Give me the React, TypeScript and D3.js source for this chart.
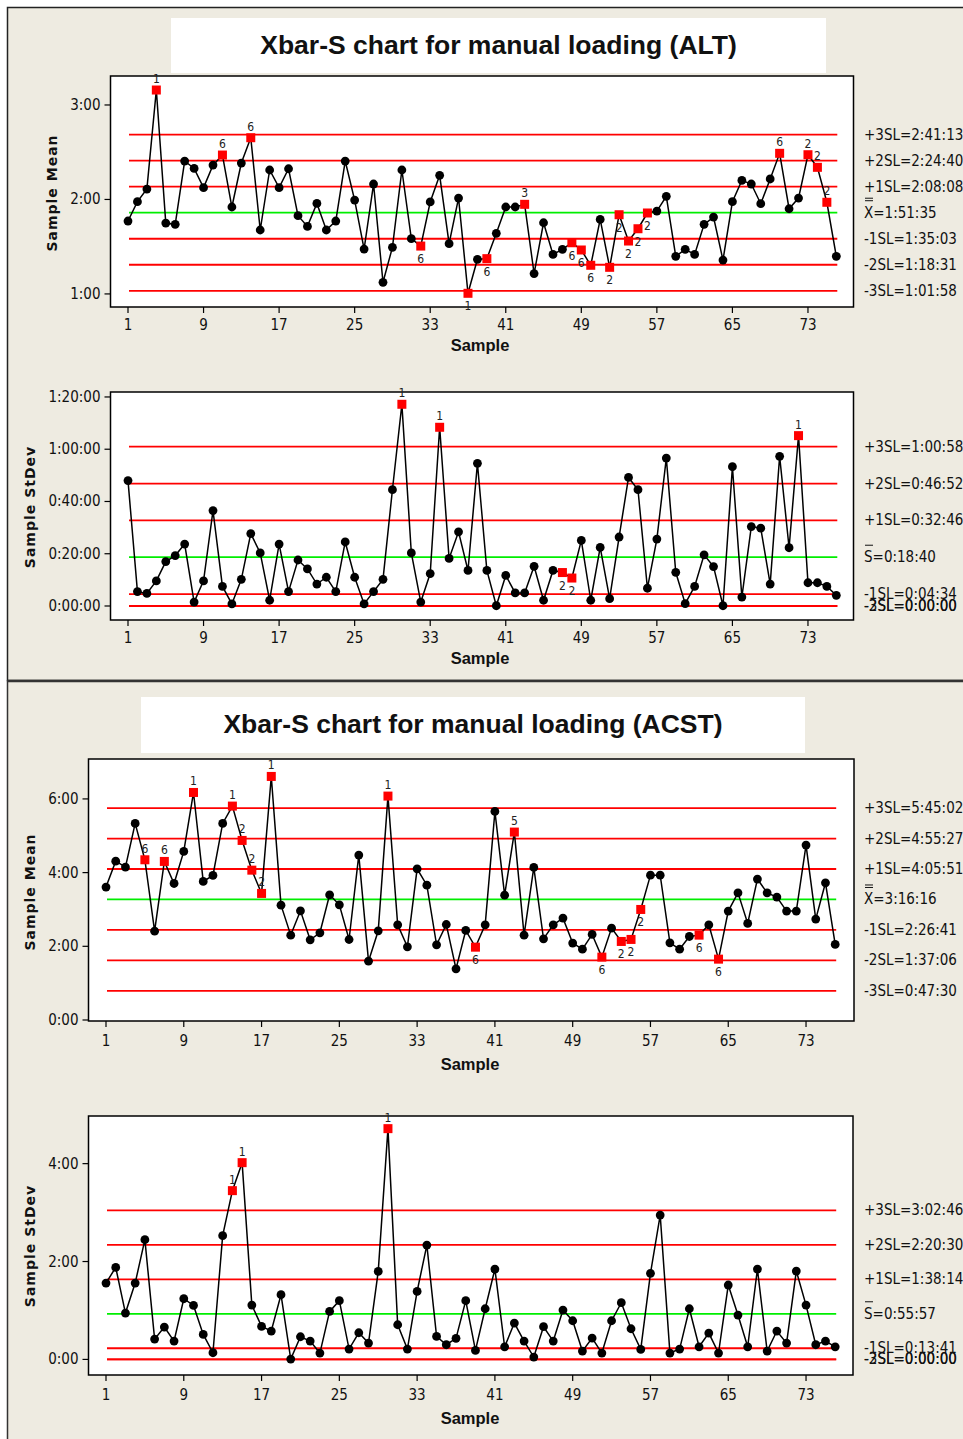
import React from 'react';
import * as d3 from 'd3';

// ---------- DATA ----------
const xTickValues = [1, 9, 17, 25, 33, 41, 49, 57, 65, 73];

// ALT – sample means (minutes)
const altMean = [
  106.3, 118.6, 126.6, 189.5, 105.0, 104.2, 144.4, 139.7, 127.5, 141.8,
  148.2, 115.2, 143.1, 159.2, 100.6, 138.7, 127.5, 139.5, 109.7, 102.9,
  117.5, 100.6, 106.3, 144.4, 119.6, 88.5, 129.8, 67.4, 89.6, 138.7,
  95.1, 90.4, 118.4, 135.3, 91.9, 120.9, 60.4, 82.0, 82.4, 98.5,
  115.2, 115.2, 116.9, 72.9, 105.2, 85.1, 88.3, 92.5, 87.9, 78.2,
  107.3, 76.9, 110.3, 93.6, 101.4, 111.4, 112.6, 122.0, 83.9, 88.3,
  85.1, 104.2, 108.8, 81.5, 118.6, 132.1, 129.8, 117.3, 133.0, 149.3,
  114.1, 120.9, 148.4, 140.4, 118.2, 83.9,
];
const altMeanFlags: [number, string][] = [
  [4, '1'], [11, '6'], [14, '6'], [32, '6'], [37, '1'], [39, '6'], [43, '3'],
  [48, '6'], [49, '6'], [50, '6'], [52, '2'], [53, '2'], [54, '2'], [55, '2'],
  [56, '2'], [70, '6'], [73, '2'], [74, '2'], [75, '2'],
];
const altMeanLimits: [string, string][] = [
  ['+3SL', '2:41:13'], ['+2SL', '2:24:40'], ['+1SL', '2:08:08'], ['X', '1:51:35'],
  ['-1SL', '1:35:03'], ['-2SL', '1:18:31'], ['-3SL', '1:01:58'],
];

// ALT – sample standard deviations (minutes)
const altSd = [
  48.0, 5.5, 4.8, 9.6, 17.0, 19.3, 23.7, 1.5, 9.6, 36.5,
  7.5, 0.8, 10.2, 27.7, 20.3, 2.2, 23.7, 5.5, 17.6, 14.2,
  8.4, 11.0, 5.5, 24.5, 11.0, 0.8, 5.5, 10.2, 44.5, 77.2,
  20.3, 1.5, 12.4, 68.4, 18.2, 28.4, 13.6, 54.6, 13.6, 0.1,
  11.7, 5.0, 5.0, 15.2, 2.2, 13.6, 12.8, 10.7, 25.1, 2.2,
  22.4, 2.8, 26.4, 49.2, 44.5, 6.8, 25.6, 56.6, 12.9, 0.9,
  7.5, 19.6, 15.1, 0.1, 53.3, 3.4, 30.4, 29.8, 8.4, 57.3,
  22.3, 65.2, 8.9, 8.9, 7.5, 4.1,
];
const altSdFlags: [number, string][] = [[30, '1'], [34, '1'], [47, '2'], [48, '2'], [72, '1']];
const altSdLimits: [string, string][] = [
  ['+3SL', '1:00:58'], ['+2SL', '0:46:52'], ['+1SL', '0:32:46'], ['S', '0:18:40'],
  ['-1SL', '0:04:34'], ['-2SL', '0:00:00'], ['-3SL', '0:00:00'],
];

// ACST – sample means (minutes)
const acstMean = [
  216.4, 258.7, 249.0, 320.1, 260.9, 144.7, 258.2, 222.3, 274.5, 370.5,
  225.6, 235.4, 320.1, 348.3, 292.4, 244.0, 206.1, 396.6, 187.0, 138.2,
  177.8, 130.6, 142.0, 203.9, 187.6, 131.1, 268.5, 95.8, 145.2, 364.6,
  155.0, 119.2, 246.2, 219.6, 122.4, 155.5, 83.3, 145.8, 118.6, 155.0,
  339.6, 203.3, 306.0, 138.2, 248.4, 132.2, 155.0, 165.9, 125.2, 115.4,
  139.3, 102.4, 149.6, 127.9, 131.2, 180.0, 235.9, 235.9, 125.7, 115.4,
  136.0, 138.2, 155.0, 99.1, 177.3, 207.1, 157.2, 229.4, 207.1, 200.1,
  177.3, 177.3, 284.8, 164.3, 223.4, 123.0,
];
const acstMeanFlags: [number, string][] = [
  [5, '6'], [7, '6'], [10, '1'], [14, '1'], [15, '2'], [16, '2'], [17, '2'],
  [18, '1'], [30, '1'], [39, '6'], [43, '5'], [52, '6'], [54, '2'], [55, '2'],
  [56, '2'], [62, '6'], [64, '6'],
];
const acstMeanLimits: [string, string][] = [
  ['+3SL', '5:45:02'], ['+2SL', '4:55:27'], ['+1SL', '4:05:51'], ['X', '3:16:16'],
  ['-1SL', '2:26:41'], ['-2SL', '1:37:06'], ['-3SL', '0:47:30'],
];

// ACST – sample standard deviations (minutes)
const acstSd = [
  93.6, 112.8, 56.8, 93.6, 146.8, 24.9, 39.7, 22.5, 74.4, 66.2,
  30.7, 8.2, 151.7, 206.9, 241.2, 66.6, 40.5, 34.8, 79.3, 0.4,
  27.8, 22.5, 7.8, 58.9, 72.0, 12.7, 32.7, 20.0, 107.9, 282.9,
  42.5, 12.7, 83.4, 140.2, 28.2, 18.0, 25.8, 72.0, 11.0, 62.1,
  110.8, 15.5, 44.6, 22.5, 2.9, 40.1, 22.5, 60.5, 47.4, 10.2,
  26.2, 7.8, 47.4, 69.5, 37.6, 12.3, 105.5, 177.0, 7.8, 12.7,
  62.1, 15.5, 32.3, 7.8, 91.2, 54.4, 15.5, 110.8, 10.2, 34.8,
  20.0, 108.3, 66.6, 18.0, 22.5, 15.5,
];
const acstSdFlags: [number, string][] = [[14, '1'], [15, '1'], [30, '1']];
const acstSdLimits: [string, string][] = [
  ['+3SL', '3:02:46'], ['+2SL', '2:20:30'], ['+1SL', '1:38:14'], ['S', '0:55:57'],
  ['-1SL', '0:13:41'], ['-2SL', '0:00:00'], ['-3SL', '0:00:00'],
];

// ---------- HELPERS ----------
const FONT = "'DejaVu Sans Condensed','DejaVu Sans',sans-serif";
const BOLD_FONT = "'Liberation Sans',Arial,sans-serif";
const BEIGE = '#EEEBE1';
const RED = '#FF0000';
const GREEN = '#00EE00';

const toMin = (s: string) => {
  const [h, m, sec] = s.split(':').map(Number);
  return h * 60 + m + sec / 60;
};
const pad = (n: number) => String(n).padStart(2, '0');
const fmtHM = (v: number) => `${Math.floor(v / 60)}:${pad(Math.round(v % 60))}`;
const fmtHMS = (v: number) => `${Math.floor(v / 60)}:${pad(Math.round(v % 60))}:00`;

interface PanelCfg {
  values: number[];
  flags: [number, string][];
  limits: [string, string][];
  box: [number, number, number, number]; // x0, x1, y0, y1
  xRange: [number, number];
  yDomain: [number, number];
  yRange: [number, number];
  yTicks: number[];
  yFmt: (v: number) => string;
  yTitle: string;
  yTitlePos: [number, number];
  xLabelY: number;
  xTitleY: number;
  xTitleX: number;
  lineOffset: number;
}

function Panel({ cfg }: { cfg: PanelCfg }) {
  const [bx0, bx1, by0, by1] = cfg.box;
  const x = d3.scaleLinear().domain([1, 76]).range(cfg.xRange);
  const y = d3.scaleLinear().domain(cfg.yDomain).range(cfg.yRange);
  const pts = cfg.values.map((v, i) => [i + 1, v] as [number, number]);
  const line = d3.line<[number, number]>().x(d => x(d[0])).y(d => y(d[1]));
  const flagMap = new Map(cfg.flags.map(f => [f[0], f[1]]));
  const center = toMin(cfg.limits[3][1]);
  const lx0 = x(1) + cfg.lineOffset;
  const lx1 = x(76) + cfg.lineOffset;
  return (
    <g>
      <rect x={bx0} y={by0} width={bx1 - bx0} height={by1 - by0} fill="#fff" stroke="#000" strokeWidth={1.5} />
      {cfg.limits.map(([name, val], i) => {
        const ly = y(toMin(val));
        return (
          <line key={'l' + i} x1={lx0} x2={lx1} y1={ly} y2={ly}
            stroke={name === 'X' || name === 'S' ? GREEN : RED} strokeWidth={1.8} />
        );
      })}
      <path d={line(pts) || ''} fill="none" stroke="#000" strokeWidth={1.5} />
      {pts.map(([s, v]) => {
        const px = x(s), py = y(v);
        const f = flagMap.get(s);
        if (f) {
          const above = v > center;
          return (
            <g key={'p' + s}>
              <rect x={px - 4.5} y={py - 4.5} width={9} height={9} fill={RED} />
              <text x={px} y={above ? py - 11 : py + 13} fontFamily={FONT} fontSize={12}
                textAnchor="middle" dominantBaseline="central" fill="#222">{f}</text>
            </g>
          );
        }
        return <circle key={'p' + s} cx={px} cy={py} r={4.4} fill="#000" />;
      })}
      {cfg.yTicks.map(t => (
        <g key={'y' + t}>
          <line x1={bx0 - 6} x2={bx0} y1={y(t)} y2={y(t)} stroke="#000" strokeWidth={1.2} />
          <text x={bx0 - 10} y={y(t)} fontFamily={FONT} fontSize={15} textAnchor="end"
            dominantBaseline="central" fill="#111">{cfg.yFmt(t)}</text>
        </g>
      ))}
      {xTickValues.map(t => (
        <g key={'x' + t}>
          <line x1={x(t)} x2={x(t)} y1={by1} y2={by1 + 6} stroke="#000" strokeWidth={1.2} />
          <text x={x(t)} y={cfg.xLabelY} fontFamily={FONT} fontSize={15} textAnchor="middle" fill="#111">{t}</text>
        </g>
      ))}
      <text x={cfg.xTitleX} y={cfg.xTitleY} fontFamily={BOLD_FONT} fontWeight="bold" fontSize={16.5}
        textAnchor="middle" fill="#111">Sample</text>
      <text transform={`translate(${cfg.yTitlePos[0]},${cfg.yTitlePos[1]}) rotate(-90)`}
        fontFamily="'DejaVu Sans',sans-serif" fontWeight="bold" fontSize={14} letterSpacing={1}
        textAnchor="middle" dominantBaseline="central" fill="#111">{cfg.yTitle}</text>
      {cfg.limits.map(([name, val], i) => {
        const ly = y(toMin(val));
        const isC = name === 'X' || name === 'S';
        return (
          <g key={'r' + i}>
            <text x={864} y={ly} fontFamily={FONT} fontSize={15} dominantBaseline="central" fill="#111">
              {`${name}=${val}`}
            </text>
            {isC && (
              <>
                <line x1={865} x2={873} y1={ly - 12} y2={ly - 12} stroke="#111" strokeWidth={1} />
                {name === 'X' && <line x1={865} x2={873} y1={ly - 14.5} y2={ly - 14.5} stroke="#111" strokeWidth={1} />}
              </>
            )}
          </g>
        );
      })}
    </g>
  );
}

const panels: PanelCfg[] = [
  {
    values: altMean, flags: altMeanFlags, limits: altMeanLimits,
    box: [110.5, 853.5, 76, 307], xRange: [128, 836.3],
    yDomain: [51.7, 198.4], yRange: [307, 76], yTicks: [60, 120, 180], yFmt: fmtHM,
    yTitle: 'Sample Mean', yTitlePos: [52, 193], xLabelY: 330, xTitleY: 351, xTitleX: 480, lineOffset: 1,
  },
  {
    values: altSd, flags: altSdFlags, limits: altSdLimits,
    box: [110.5, 853.5, 392, 620], xRange: [128, 836.3],
    yDomain: [-5.36, 81.9], yRange: [620, 392], yTicks: [0, 20, 40, 60, 80], yFmt: fmtHMS,
    yTitle: 'Sample StDev', yTitlePos: [30, 507], xLabelY: 643, xTitleY: 664, xTitleX: 480, lineOffset: 1,
  },
  {
    values: acstMean, flags: acstMeanFlags, limits: acstMeanLimits,
    box: [88.5, 854, 759, 1021], xRange: [106, 835.2],
    yDomain: [0, 425], yRange: [1020, 759], yTicks: [0, 120, 240, 360], yFmt: fmtHM,
    yTitle: 'Sample Mean', yTitlePos: [30, 892], xLabelY: 1046, xTitleY: 1070, xTitleX: 470, lineOffset: 1,
  },
  {
    values: acstSd, flags: acstSdFlags, limits: acstSdLimits,
    box: [88.5, 853, 1116, 1375], xRange: [106, 835.2],
    yDomain: [-19.1, 298.4], yRange: [1375, 1116], yTicks: [0, 120, 240], yFmt: fmtHM,
    yTitle: 'Sample StDev', yTitlePos: [30, 1246], xLabelY: 1400, xTitleY: 1424, xTitleX: 470, lineOffset: 1,
  },
];

export default function App() {
  return (
    <svg width={963} height={1439} style={{ position: 'absolute', left: 0, top: 0, display: 'block' }}
      xmlns="http://www.w3.org/2000/svg">
      <rect x={0} y={0} width={963} height={1439} fill="#fff" />
      <rect x={7.5} y={7.5} width={1000} height={673} fill={BEIGE} stroke="#222" strokeWidth={1.5} />
      <rect x={7.5} y={681} width={1000} height={800} fill={BEIGE} stroke="#333" strokeWidth={1.5} />
      <line x1={7} x2={963} y1={681} y2={681} stroke="#333" strokeWidth={2.5} />
      <rect x={171} y={18} width={655} height={55} fill="#fff" />
      <text x={498.5} y={45} fontFamily={BOLD_FONT} fontWeight="bold" fontSize={26.5}
        textAnchor="middle" dominantBaseline="central" fill="#111">Xbar-S chart for manual loading (ALT)</text>
      <rect x={141} y={697} width={664} height={56} fill="#fff" />
      <text x={473} y={724} fontFamily={BOLD_FONT} fontWeight="bold" fontSize={26.5}
        textAnchor="middle" dominantBaseline="central" fill="#111">Xbar-S chart for manual loading (ACST)</text>
      {panels.map((p, i) => <Panel key={i} cfg={p} />)}
    </svg>
  );
}
